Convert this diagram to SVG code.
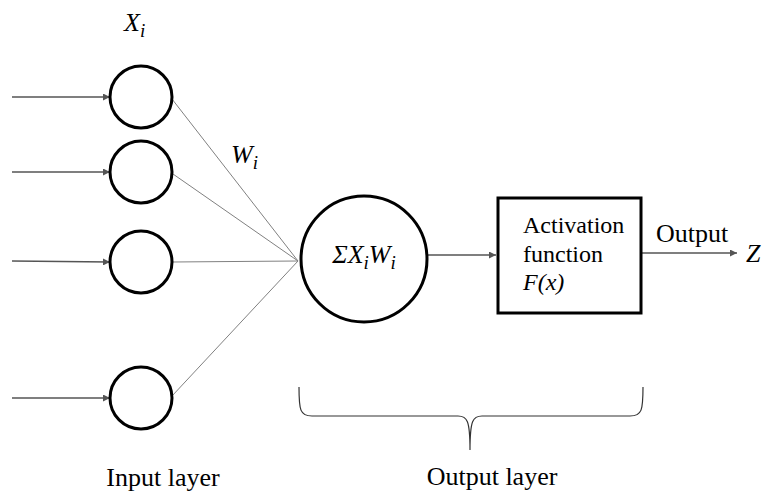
<svg xmlns="http://www.w3.org/2000/svg" width="762" height="493" viewBox="0 0 762 493">
  <style>
    .node { fill: #ffffff; stroke: #000000; stroke-width: 3; }
    .arrow { stroke: #555555; stroke-width: 1.5; fill: none; marker-end: url(#head); }
    .weight { stroke: #808080; stroke-width: 1; fill: none; }
    .txt { font-family: "Liberation Serif", "Times New Roman", serif; fill: #000000; }
    .it { font-style: italic; }
  </style>
  <defs>
    <marker id="head" viewBox="0 0 10 10" refX="10" refY="5" markerWidth="7" markerHeight="7" markerUnits="userSpaceOnUse" orient="auto">
      <path d="M0,0 L10,5 L0,10 z" fill="#555555"/>
    </marker>
  </defs>
  <rect width="762" height="493" fill="#ffffff"/>

  <g id="connectors">
    <line class="arrow" x1="12" y1="97" x2="110" y2="97"/>
    <line class="arrow" x1="12" y1="172" x2="110" y2="172"/>
    <line class="arrow" x1="12" y1="261" x2="110" y2="262"/>
    <line class="arrow" x1="12" y1="398" x2="110" y2="398"/>
    <line class="weight" x1="172" y1="99" x2="298" y2="261"/>
    <line class="weight" x1="173" y1="174" x2="298" y2="261"/>
    <line class="weight" x1="172" y1="262" x2="298" y2="261"/>
    <line class="weight" x1="172" y1="396" x2="298" y2="261"/>
    <line class="arrow" x1="427" y1="255" x2="496" y2="255"/>
    <line class="arrow" x1="642" y1="253" x2="737" y2="253"/>
  </g>

  <g id="input1"><circle class="node" cx="141" cy="97" r="31"/></g>
  <g id="input2"><circle class="node" cx="141" cy="172" r="31"/></g>
  <g id="input3"><circle class="node" cx="141" cy="262" r="31"/></g>
  <g id="input4"><circle class="node" cx="141" cy="398" r="31"/></g>

  <g id="sum">
    <circle class="node" cx="364" cy="259" r="63"/>
    <text class="txt it" x="364" y="263" font-size="26" text-anchor="middle">ΣX<tspan font-size="19" dy="6">i</tspan><tspan dy="-6">W</tspan><tspan font-size="19" dy="6">i</tspan></text>
  </g>

  <g id="activation">
    <rect class="node" x="498" y="198" width="143" height="115"/>
    <text class="txt" x="523" y="233" font-size="24">Activation</text>
    <text class="txt" x="523" y="262" font-size="24">function</text>
    <text class="txt it" x="523" y="290" font-size="24">F(x)</text>
  </g>

  <g id="labels">
    <text class="txt it" x="124" y="31" font-size="26">X<tspan font-size="19" dy="6">i</tspan></text>
    <text class="txt it" x="231" y="163" font-size="26">W<tspan font-size="19" dy="6">i</tspan></text>
    <text class="txt" x="656" y="242" font-size="26">Output</text>
    <text class="txt it" x="746" y="262" font-size="26">Z</text>
    <text class="txt" x="163" y="486" font-size="26" text-anchor="middle">Input layer</text>
    <text class="txt" x="492" y="485" font-size="26" text-anchor="middle">Output layer</text>
  </g>

  <g id="brace">
    <path d="M299,387 C299,410 300,416 312,416 L458,416 C467,416 470,420 470,450 C470,420 473,416 482,416 L630,416 C642,416 643,410 643,387" fill="none" stroke="#333333" stroke-width="1.2"/>
  </g>
</svg>
